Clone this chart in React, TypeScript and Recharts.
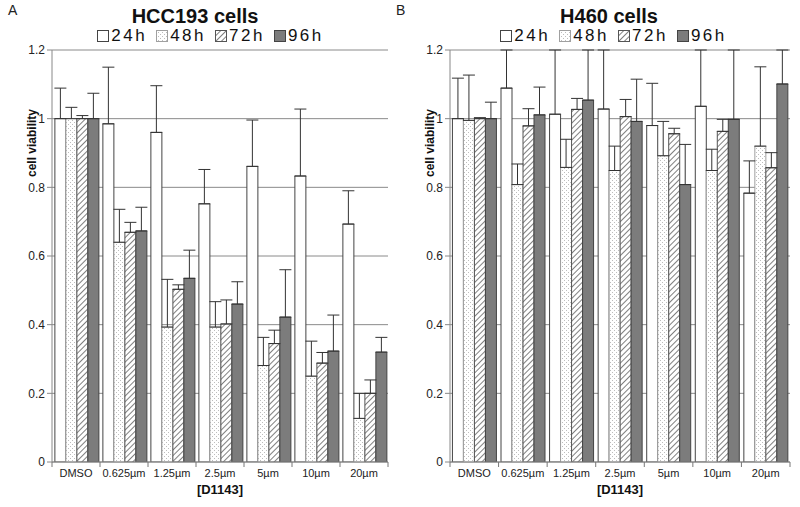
import React from 'react'
import { BarChart, Bar, XAxis, YAxis, CartesianGrid, ErrorBar, Label } from 'recharts'

const categories = ['DMSO', '0.625µm', '1.25µm', '2.5µm', '5µm', '10µm', '20µm']
const yTicks = [0, 0.2, 0.4, 0.6, 0.8, 1, 1.2]
const yMax = 1.2

// HCC193 means and upper errors
const hcc24 = [1.0, 0.985, 0.96, 0.752, 0.861, 0.833, 0.693]
const hcc24Err = [0.089, 0.165, 0.136, 0.1, 0.135, 0.195, 0.097]
const hcc48 = [1.0, 0.64, 0.393, 0.393, 0.281, 0.25, 0.127]
const hcc48Err = [0.033, 0.096, 0.139, 0.074, 0.082, 0.102, 0.073]
const hcc72 = [1.0, 0.669, 0.503, 0.402, 0.345, 0.288, 0.2]
const hcc72Err = [0.009, 0.029, 0.013, 0.07, 0.039, 0.031, 0.039]
const hcc96 = [1.0, 0.673, 0.535, 0.46, 0.422, 0.323, 0.32]
const hcc96Err = [0.074, 0.069, 0.082, 0.065, 0.138, 0.105, 0.043]

// H460 means and upper errors
const h24 = [1.0, 1.089, 1.013, 1.028, 0.98, 1.036, 0.783]
const h24Err = [0.118, 0.25, 0.24, 0.22, 0.123, 0.22, 0.094]
const h48 = [0.995, 0.808, 0.858, 0.849, 0.892, 0.849, 0.92]
const h48Err = [0.132, 0.06, 0.082, 0.071, 0.1, 0.062, 0.231]
const h72 = [1.0, 0.979, 1.027, 1.006, 0.956, 0.963, 0.857]
const h72Err = [0.003, 0.05, 0.032, 0.05, 0.016, 0.035, 0.044]
const h96 = [1.0, 1.011, 1.054, 0.992, 0.808, 0.998, 1.101]
const h96Err = [0.048, 0.081, 0.2, 0.123, 0.117, 0.25, 0.2]

const series = [
  { key: 't24', name: '24h', fill: '#ffffff', stroke: '#444' },
  { key: 't48', name: '48h', fill: 'url(#dots)', stroke: '#a0a0a0' },
  { key: 't72', name: '72h', fill: 'url(#hatch)', stroke: '#555' },
  { key: 't96', name: '96h', fill: '#7c7c7c', stroke: '#444' },
]

const font = '"Liberation Sans", Arial, sans-serif'

function buildRows(vals: number[][], errs: number[][]) {
  return categories.map((name, i) => {
    const row: any = { name }
    series.forEach((s, j) => {
      const v = vals[j][i]
      row[s.key] = v
      // error bars are cut off at the top of the axis, as in the original
      row[s.key + 'Err'] = [0, Math.min(errs[j][i], yMax - v)]
    })
    return row
  })
}

const hccRows = buildRows([hcc24, hcc48, hcc72, hcc96], [hcc24Err, hcc48Err, hcc72Err, hcc96Err])
const h460Rows = buildRows([h24, h48, h72, h96], [h24Err, h48Err, h72Err, h96Err])

const Patterns = () => (
  <svg width={0} height={0} style={{ position: 'absolute' }}>
    <defs>
      <pattern id="dots" width="4" height="4" patternUnits="userSpaceOnUse">
        <rect width="4" height="4" fill="#ffffff" />
        <rect x="0" y="0" width="1" height="1" fill="#bdbdbd" />
        <rect x="2" y="2" width="1" height="1" fill="#bdbdbd" />
      </pattern>
      <pattern id="hatch" width="4" height="4" patternUnits="userSpaceOnUse" patternTransform="rotate(45)">
        <rect width="4" height="4" fill="#ffffff" />
        <line x1="0" y1="0" x2="0" y2="4" stroke="#555" strokeWidth="1.5" />
      </pattern>
    </defs>
  </svg>
)

const XTick = (props: any) => {
  const { x, y, payload, index, band } = props
  const axisY = y - 2
  return (
    <g>
      <line x1={x - band / 2} x2={x - band / 2} y1={axisY} y2={axisY + 5} stroke="#777" />
      {index === categories.length - 1 && (
        <line x1={x + band / 2} x2={x + band / 2} y1={axisY} y2={axisY + 5} stroke="#777" />
      )}
      <text x={x} y={axisY + 15} textAnchor="middle" fontSize={11} fill="#222" fontFamily={font}>
        {payload.value}
      </text>
    </g>
  )
}

interface PanelProps {
  rows: any[]
  title: string
  letter: string
  left: number
  marginLeft: number
  marginRight: number
  gap: string
  titleX: number
  legendX: number
  letterX: number
}

function Panel({ rows, title, letter, left, marginLeft, marginRight, gap, titleX, legendX, letterX }: PanelProps) {
  const width = 400
  const height = 507
  const yAxisWidth = 30
  const band = (width - marginLeft - marginRight - yAxisWidth) / categories.length
  return (
    <div style={{ position: 'absolute', left, top: 0, width, height, fontFamily: font }}>
      <div style={{ position: 'absolute', left: letterX, top: 2, fontSize: 14, color: '#222' }}>{letter}</div>
      <div
        style={{
          position: 'absolute',
          left: titleX - 100,
          width: 200,
          top: 6,
          textAlign: 'center',
          fontSize: 20,
          lineHeight: '20px',
          fontWeight: 'bold',
          color: '#111',
        }}
      >
        {title}
      </div>
      <div
        style={{
          position: 'absolute',
          left: legendX - 150,
          width: 300,
          top: 27,
          display: 'flex',
          justifyContent: 'center',
          fontSize: 17,
          lineHeight: '17px',
          letterSpacing: 2.5,
          color: '#111',
        }}
      >
        {series.map((s) => (
          <span key={s.key} style={{ display: 'flex', alignItems: 'center', marginRight: 9 }}>
            <svg width={12} height={12} style={{ marginRight: 2 }}>
              <rect x={0.5} y={0.5} width={11} height={11} fill={s.fill} stroke={s.stroke} />
            </svg>
            {s.name}
          </span>
        ))}
      </div>
      <BarChart
        width={width}
        height={height}
        data={rows}
        margin={{ top: 50, right: marginRight, bottom: 15, left: marginLeft }}
        barCategoryGap={gap}
        barGap={0}
      >
        <CartesianGrid vertical={false} stroke="#8a8a8a" />
        <XAxis
          dataKey="name"
          height={30}
          tickLine={false}
          tickSize={0}
          axisLine={{ stroke: '#888' }}
          interval={0}
          tick={<XTick band={band} />}
        >
          <Label
            content={(p: any) => (
              <text
                x={p.viewBox.x + p.viewBox.width / 2}
                y={p.viewBox.y + 32}
                textAnchor="middle"
                fontSize={13}
                fontWeight="bold"
                fill="#111"
                fontFamily={font}
              >
                [D1143]
              </text>
            )}
          />
        </XAxis>
        <YAxis
          width={yAxisWidth}
          domain={[0, yMax]}
          ticks={yTicks}
          allowDataOverflow
          tickSize={5}
          tickLine={{ stroke: '#888' }}
          axisLine={{ stroke: '#888' }}
          tick={{ fontSize: 12, fill: '#222', fontFamily: font }}
        >
          <Label
            content={(p: any) => (
              <text
                x={p.viewBox.x + 14}
                y={p.viewBox.y + 93}
                transform={`rotate(-90 ${p.viewBox.x + 14} ${p.viewBox.y + 93})`}
                textAnchor="middle"
                fontSize={12}
                fontWeight="bold"
                fill="#111"
                fontFamily={font}
              >
                cell viability
              </text>
            )}
          />
        </YAxis>
        {series.map((s) => (
          <Bar key={s.key} dataKey={s.key} name={s.name} fill={s.fill} stroke={s.stroke} isAnimationActive={false}>
            <ErrorBar dataKey={s.key + 'Err'} direction="y" width={6} stroke="#333" strokeWidth={1} />
          </Bar>
        ))}
      </BarChart>
    </div>
  )
}

export default function App() {
  return (
    <div style={{ position: 'absolute', left: 0, top: 0, width: 800, height: 507, background: '#fff' }}>
      <Patterns />
      <Panel
        rows={hccRows}
        title="HCC193 cells"
        letter="A"
        left={0}
        marginLeft={22}
        marginRight={12}
        gap="6%"
        titleX={195}
        legendX={215}
        letterX={8}
      />
      <Panel
        rows={h460Rows}
        title="H460 cells"
        letter="B"
        left={400}
        marginLeft={20}
        marginRight={10}
        gap="5%"
        titleX={209}
        legendX={218}
        letterX={-4}
      />
    </div>
  )
}
